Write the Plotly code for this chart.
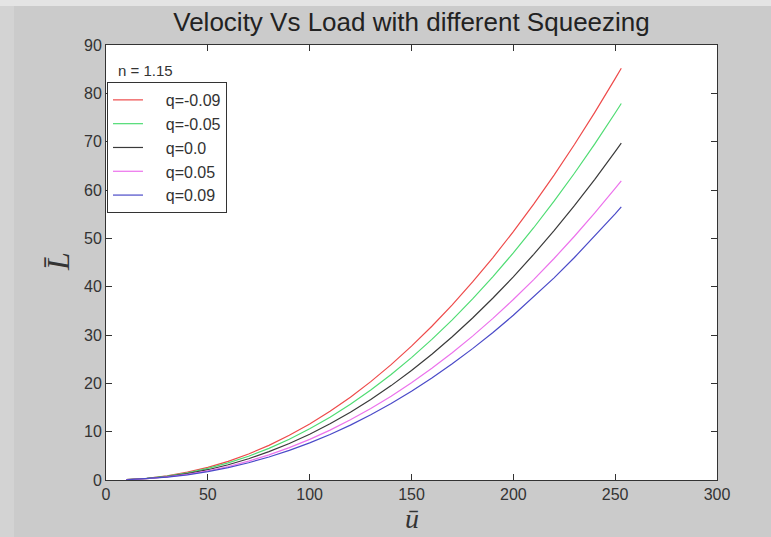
import plotly.graph_objects as go

# Dimensionless velocity (u-bar) sample points
u_vals = [10, 20, 30, 40, 50, 60, 70, 80, 90, 100, 110, 120, 130, 140, 150,
          160, 170, 180, 190, 200, 210, 220, 230, 240, 250, 253]

# Dimensionless load (L-bar) for each squeezing parameter q
load_q_m009 = [0.08, 0.36, 0.87, 1.62, 2.61, 3.86, 5.38, 7.17, 9.24, 11.58, 14.21, 17.13, 20.35,
               23.87, 27.69, 31.81, 36.24, 40.98, 46.02, 51.39, 57.08, 63.08, 69.41, 76.06, 83.04, 85.2]
load_q_m005 = [0.08, 0.33, 0.80, 1.48, 2.39, 3.53, 4.92, 6.55, 8.44, 10.59, 12.99, 15.67, 18.61,
               21.83, 25.32, 29.09, 33.14, 37.47, 42.08, 46.99, 52.19, 57.68, 63.47, 69.54, 75.93, 77.9]
load_q_000 = [0.07, 0.30, 0.71, 1.32, 2.13, 3.16, 4.40, 5.86, 7.56, 9.47, 11.63, 14.02, 16.65,
              19.53, 22.65, 26.03, 29.65, 33.53, 37.65, 42.04, 46.70, 51.61, 56.78, 62.22, 67.94, 69.7]
load_q_p005 = [0.06, 0.26, 0.63, 1.17, 1.90, 2.80, 3.91, 5.21, 6.71, 8.41, 10.32, 12.45, 14.79,
               17.34, 20.12, 23.11, 26.33, 29.77, 33.44, 37.34, 41.47, 45.83, 50.43, 55.26, 60.33, 61.9]
load_q_p009 = [0.05, 0.24, 0.58, 1.07, 1.73, 2.56, 3.57, 4.75, 6.12, 7.68, 9.42, 11.36, 13.50,
               15.83, 18.36, 21.10, 24.04, 27.18, 30.52, 34.08, 37.86, 41.83, 46.03, 50.44, 55.07, 56.5]

series_names = ["q=-0.09", "q=-0.05", "q=0.0", "q=0.05", "q=0.09"]
series_values = [load_q_m009, load_q_m005, load_q_000, load_q_p005, load_q_p009]
series_colors = ["#ee4a4a", "#4fdc73", "#3a3a3a", "#ec72ec", "#4a4ac8"]

x_ticks = [0, 50, 100, 150, 200, 250, 300]
y_ticks = [0, 10, 20, 30, 40, 50, 60, 70, 80, 90]

# leading non-breaking spaces widen the legend entries
LEGEND_PAD = "\u00a0" * 4

fig = go.Figure()
for name, vals, col in zip(series_names, series_values, series_colors):
    fig.add_trace(go.Scatter(x=u_vals, y=vals, mode="lines", name=LEGEND_PAD + name,
                             line=dict(color=col, width=1.2)))

axis_common = dict(
    showgrid=False, zeroline=False, showline=True, linecolor="#333333", linewidth=1,
    mirror="ticks", ticks="inside", ticklen=6, tickcolor="#333333",
    tickfont=dict(family="Liberation Sans, Arial, sans-serif", size=16, color="#333333"),
)

fig.update_layout(
    width=771, height=537,
    margin=dict(l=106, r=54, t=45, b=57),
    paper_bgcolor="#cbcbcb",
    plot_bgcolor="#ffffff",
    title=dict(text="Velocity Vs Load with different Squeezing",
               font=dict(family="Liberation Sans, Arial, sans-serif", size=26, color="#222222"),
               x=0.5, xref="paper", xanchor="center",
               y=(537 - 22) / 537, yref="container", yanchor="middle"),
    xaxis=dict(range=[0, 300], tickvals=x_ticks, **axis_common),
    yaxis=dict(range=[0, 90], tickvals=y_ticks, **axis_common),
    showlegend=True,
    legend=dict(x=0.0016, y=0.915, xanchor="left", yanchor="top",
                bgcolor="#ffffff", bordercolor="#333333", borderwidth=1,
                font=dict(family="Liberation Sans, Arial, sans-serif", size=16, color="#333333"),
                tracegroupgap=0),
    shapes=[
        dict(type="rect", xref="paper", yref="paper", x0=-106 / 611, x1=(771 - 106) / 611,
             y0=(480 - 6) / 435 + 0.0, y1=480 / 435, fillcolor="#e4e4e4", line=dict(width=0),
             layer="below"),
        dict(type="rect", xref="paper", yref="paper", x0=-106 / 611, x1=-92 / 611,
             y0=-57 / 435, y1=(480 - 6) / 435, fillcolor="#d3d3d3", line=dict(width=0),
             layer="below"),
    ],
    annotations=[
        dict(text="n = 1.15", xref="paper", yref="paper", x=10 / 611, y=(480 - 70) / 435,
             xanchor="left", yanchor="middle", showarrow=False,
             font=dict(family="Liberation Sans, Arial, sans-serif", size=15, color="#333333")),
        dict(text="<i>u\u0304</i>", xref="paper", yref="paper", x=0.5, y=(480 - 518) / 435,
             xanchor="center", yanchor="middle", showarrow=False,
             font=dict(family="Liberation Serif, DejaVu Serif, serif", size=28, color="#333333")),
        dict(text="<i>L\u0304</i>", xref="paper", yref="paper", x=(58 - 106) / 611, y=(480 - 262) / 435,
             xanchor="center", yanchor="middle", showarrow=False, textangle=-90,
             font=dict(family="Liberation Serif, DejaVu Serif, serif", size=32, color="#333333")),
    ],
)

fig.write_html("out.html")
